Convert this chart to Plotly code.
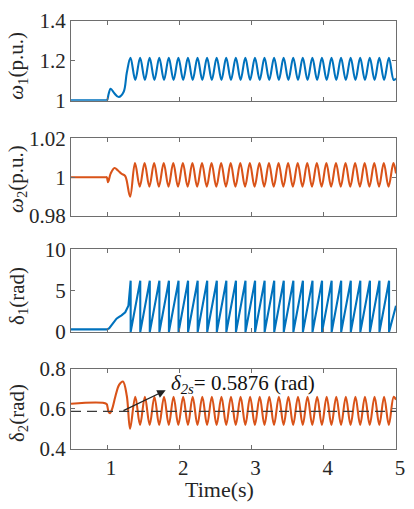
import plotly.graph_objects as go

# ---------------- data (time in s) ----------------
T_END = 5.0

# omega_1 (p.u.): pre-oscillation transient, then steady oscillation turning points
w1_pre_t = [0.5, 0.98, 1.0, 1.02, 1.049, 1.10, 1.161, 1.228, 1.273]
w1_pre_v = [1.0, 1.0, 1.0, 1.03, 1.058, 1.035, 1.016, 1.041, 1.14]
w1_peak_t = [1.324, 1.457, 1.589, 1.722, 1.854, 1.987, 2.119, 2.252, 2.384, 2.517,
             2.649, 2.782, 2.914, 3.047, 3.179, 3.312, 3.444, 3.577, 3.709, 3.842,
             3.974, 4.107, 4.239, 4.372, 4.504, 4.637, 4.769, 4.902]
w1_trough_t = [1.390, 1.523, 1.655, 1.788, 1.920, 2.053, 2.185, 2.318, 2.450, 2.583,
               2.715, 2.848, 2.980, 3.113, 3.245, 3.378, 3.510, 3.643, 3.775, 3.908,
               4.040, 4.173, 4.305, 4.438, 4.570, 4.703, 4.835, 4.968]
w1_peak, w1_trough, w1_end = 1.214, 1.102, 1.11

# omega_2 (p.u.)
w2_pre_t = [0.5, 0.98, 0.995, 1.013, 1.05, 1.103, 1.15, 1.20, 1.251, 1.318]
w2_pre_v = [1.0, 1.0, 1.0, 0.9975, 1.002, 1.0048, 1.0035, 1.0018, 1.0006, 0.990]
w2_peak_t = [1.386, 1.519, 1.651, 1.784, 1.916, 2.049, 2.181, 2.314, 2.446, 2.579,
             2.711, 2.844, 2.976, 3.109, 3.241, 3.374, 3.506, 3.639, 3.771, 3.904,
             4.036, 4.169, 4.301, 4.434, 4.566, 4.699, 4.831, 4.964]
w2_trough_t = [1.452, 1.585, 1.717, 1.850, 1.982, 2.115, 2.247, 2.380, 2.512, 2.645,
               2.777, 2.910, 3.042, 3.175, 3.307, 3.440, 3.572, 3.705, 3.837, 3.970,
               4.102, 4.235, 4.367, 4.500, 4.632, 4.765, 4.897]
w2_peak, w2_trough, w2_end = 1.0073, 0.9952, 1.002

# delta_1 (rad): transient rise, then wrap instants (angle falls back to 0)
d1_pre_t = [0.5, 1.0, 1.03, 1.06, 1.094, 1.13, 1.161, 1.20, 1.251, 1.295]
d1_pre_v = [0.3, 0.3, 0.45, 0.8, 1.19, 1.6, 1.79, 2.0, 2.38, 3.18]
d1_wrap_t = [1.326, 1.459, 1.591, 1.724, 1.856, 1.989, 2.121, 2.254, 2.386, 2.519,
             2.651, 2.784, 2.916, 3.049, 3.181, 3.314, 3.446, 3.579, 3.711, 3.844,
             3.976, 4.109, 4.241, 4.374, 4.506, 4.639, 4.771, 4.904]
d1_top, d1_bottom, d1_end = 6.2, 0.0, 3.17

# delta_2 (rad)
d2_pre_t = [0.5, 0.99, 1.005, 1.02, 1.04, 1.07, 1.116, 1.168, 1.219, 1.273, 1.318]
d2_pre_v = [0.625, 0.625, 0.61, 0.585, 0.578, 0.60, 0.664, 0.72, 0.736, 0.664, 0.501]
d2_peak_t = [1.390, 1.523, 1.655, 1.788, 1.920, 2.053, 2.185, 2.318, 2.450, 2.583,
             2.715, 2.848, 2.980, 3.113, 3.245, 3.378, 3.510, 3.643, 3.775, 3.908,
             4.040, 4.173, 4.305, 4.438, 4.570, 4.703, 4.835, 4.968]
d2_trough_t = [1.456, 1.589, 1.721, 1.854, 1.986, 2.119, 2.251, 2.384, 2.516, 2.649,
               2.781, 2.914, 3.046, 3.179, 3.311, 3.444, 3.576, 3.709, 3.841, 3.974,
               4.106, 4.239, 4.371, 4.504, 4.636, 4.769, 4.901]
d2_peak, d2_trough, d2_end = 0.66, 0.52, 0.645
d2_steady = 0.5876

BLUE = "#0072BD"
ORANGE = "#D95319"
AXIS = "#6e6e6e"
TEXT = "#262626"
FONT = "Liberation Serif"


def oscillation(pre_t, pre_v, first_t, first_v, second_t, second_v, end_v):
    """Transient followed by alternating turning points, closed at T_END."""
    xs, ys = list(pre_t), list(pre_v)
    for i in range(max(len(first_t), len(second_t))):
        if i < len(first_t):
            xs.append(first_t[i]); ys.append(first_v)
        if i < len(second_t):
            xs.append(second_t[i]); ys.append(second_v)
    xs.append(T_END); ys.append(end_v)
    return xs, ys


w1_x, w1_y = oscillation(w1_pre_t, w1_pre_v, w1_peak_t, w1_peak, w1_trough_t, w1_trough, w1_end)
w2_x, w2_y = oscillation(w2_pre_t, w2_pre_v, w2_peak_t, w2_peak, w2_trough_t, w2_trough, w2_end)
d2_x, d2_y = oscillation(d2_pre_t, d2_pre_v, d2_peak_t, d2_peak, d2_trough_t, d2_trough, d2_end)

# sawtooth of the wrapped rotor angle
d1_x, d1_y = list(d1_pre_t), list(d1_pre_v)
for tw in d1_wrap_t:
    d1_x += [tw, tw]
    d1_y += [d1_top, d1_bottom]
d1_x.append(T_END)
d1_y.append(d1_end)

fig = go.Figure()
fig.add_trace(go.Scatter(x=w1_x, y=w1_y, mode="lines", xaxis="x", yaxis="y",
                         line=dict(color=BLUE, width=2.1, shape="spline", smoothing=1)))
fig.add_trace(go.Scatter(x=w2_x, y=w2_y, mode="lines", xaxis="x2", yaxis="y2",
                         line=dict(color=ORANGE, width=2.1, shape="spline", smoothing=1)))
fig.add_trace(go.Scatter(x=d1_x, y=d1_y, mode="lines", xaxis="x3", yaxis="y3",
                         line=dict(color=BLUE, width=2.1)))
fig.add_trace(go.Scatter(x=d2_x, y=d2_y, mode="lines", xaxis="x4", yaxis="y4",
                         line=dict(color=ORANGE, width=2.1, shape="spline", smoothing=1)))
fig.add_trace(go.Scatter(x=[0.5, T_END], y=[d2_steady, d2_steady], mode="lines",
                         xaxis="x4", yaxis="y4",
                         line=dict(color="#3a3a3a", width=1.2, dash="10px,6px")))

# panel domains (fractions of the plotting area)
domains = [[0.8138, 1.0], [0.5441, 0.7257], [0.2736, 0.4667], [0.0, 0.1878]]
y_ranges = [[0.9975, 1.4], [0.98, 1.02], [0.0, 10.0], [0.4, 0.8]]
y_ticks = [[1, 1.2, 1.4], [0.98, 1.0, 1.02], [0, 5, 10], [0.4, 0.6, 0.8]]
y_labels = [["1", "1.2", "1.4"], ["0.98", "1", "1.02"], ["0", "5", "10"], ["0.4", "0.6", "0.8"]]
x_ticks = [1, 2, 3, 4, 5]
x_labels = ["1", "2", "3", "4", "5"]

layout = dict(
    width=414, height=509,
    margin=dict(l=71, r=9, t=14, b=60),
    paper_bgcolor="white", plot_bgcolor="white",
    showlegend=False,
    font=dict(family=FONT, size=21, color=TEXT),
)
for i in range(4):
    sx = "" if i == 0 else str(i + 1)
    layout["xaxis" + sx] = dict(
        domain=[0, 1], anchor="y" + sx, range=[0.5, T_END],
        tickvals=x_ticks, ticktext=x_labels, showticklabels=(i == 3),
        ticks="inside", ticklen=4, tickcolor=AXIS, tickwidth=1,
        showline=True, linecolor=AXIS, linewidth=1, mirror="ticks",
        showgrid=False, zeroline=False, ticklabelshift=4, ticklabelstandoff=0,
        tickfont=dict(family=FONT, size=21, color=TEXT),
    )
    layout["yaxis" + sx] = dict(
        domain=domains[i], anchor="x" + sx, range=y_ranges[i],
        tickvals=y_ticks[i], ticktext=y_labels[i],
        ticks="inside", ticklen=4, tickcolor=AXIS, tickwidth=1,
        showline=True, linecolor=AXIS, linewidth=1, mirror="ticks",
        showgrid=False, zeroline=False, ticklabelstandoff=0,
        tickfont=dict(family=FONT, size=21, color=TEXT),
    )
fig.update_layout(**layout)

# y-axis titles
titles = ["<i>ω</i><sub>1</sub>(p.u.)", "<i>ω</i><sub>2</sub>(p.u.)",
          "δ<sub>1</sub>(rad)", "δ<sub>2</sub>(rad)"]
title_y = [0.8966, 0.6322, 0.3586, 0.0851]
for txt, yy in zip(titles, title_y):
    fig.add_annotation(text=txt, xref="paper", yref="paper", x=-0.1647, y=yy,
                       xanchor="center", yanchor="middle", textangle=-90,
                       showarrow=False, font=dict(family=FONT, size=21, color=TEXT))

fig.add_annotation(text="Time(s)", xref="paper", yref="paper", x=0.458, y=-0.094,
                   xanchor="center", yanchor="middle", showarrow=False,
                   font=dict(family=FONT, size=22, color=TEXT))

# steady-state angle callout
fig.add_annotation(x=1.811, y=0.692, ax=1.205, ay=d2_steady,
                   xref="x4", yref="y4", axref="x4", ayref="y4",
                   text="", showarrow=True, arrowhead=2, arrowsize=1.3,
                   arrowwidth=1.3, arrowcolor="#222222", standoff=0, startstandoff=0)
fig.add_annotation(x=1.85, y=0.722, xref="x4", yref="y4",
                   text="<i>δ</i><sub><i>2s</i></sub>= %.4f (rad)" % d2_steady,
                   xanchor="left", yanchor="middle", showarrow=False,
                   font=dict(family=FONT, size=21, color="#111111"))

fig.write_html("out.html")
